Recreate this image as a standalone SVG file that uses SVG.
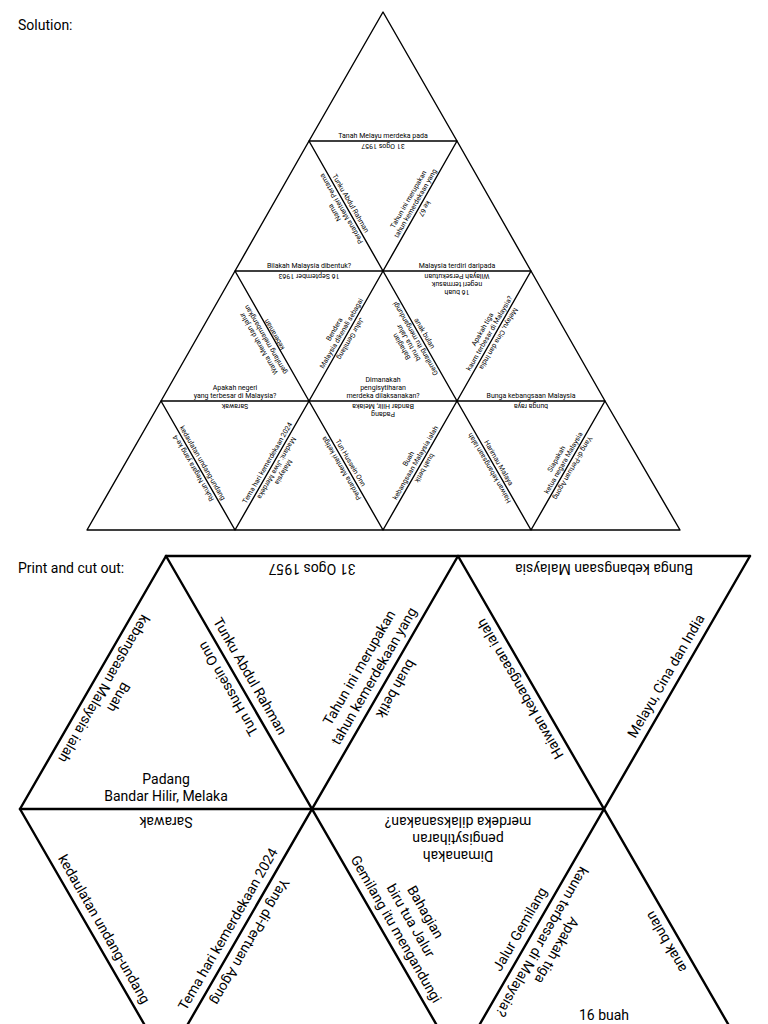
<svg xmlns="http://www.w3.org/2000/svg" width="768" height="1024" viewBox="0 0 768 1024">
<style>
text{font-family:Roboto,"Liberation Sans",sans-serif;fill:#000;text-anchor:middle}
.h{font-size:14px;text-anchor:start}
.s{font-size:7px}
.b{font-size:14px}
.g1 polygon{fill:none;stroke:#000;stroke-width:1.4;stroke-linejoin:round}
.g2 line{stroke:#000;stroke-width:2.4;stroke-linecap:round}
</style>
<rect width="768" height="1024" fill="#fff"/>
<text class="h" x="18" y="30">Solution:</text>
<text class="h" x="18" y="573">Print and cut out:</text>
<g id="solution-grid" class="g1">
<polygon points="383,12 309,141 457,141"/>
<polygon points="309,141 235,271 383,271"/>
<polygon points="457,141 383,271 531,271"/>
<polygon points="235,271 161,401 309,401"/>
<polygon points="383,271 309,401 457,401"/>
<polygon points="531,271 457,401 605,401"/>
<polygon points="161,401 87,530 235,530"/>
<polygon points="309,401 235,530 383,530"/>
<polygon points="457,401 383,530 531,530"/>
<polygon points="605,401 531,530 680,530"/>
</g>
<g id="solution-text" class="s">
<text transform="translate(383,141)"><tspan x="0" y="-3">Tanah Melayu merdeka pada</tspan></text>
<text transform="translate(383,141) rotate(180)"><tspan x="0" y="-3">31 Ogos 1957</tspan></text>
<text transform="translate(346,206) rotate(60)"><tspan x="0" y="-3">Tunku Abdul Rahman</tspan></text>
<text transform="translate(346,206) rotate(-120)"><tspan x="0" y="-11">Nama</tspan><tspan x="0" y="-3">Perdana Menteri Pertama</tspan></text>
<text transform="translate(420,206) rotate(-60)"><tspan x="0" y="-11">Tahun ini merupakan</tspan><tspan x="0" y="-3">tahun kemerdekaan yang</tspan></text>
<text transform="translate(420,206) rotate(120)"><tspan x="0" y="-3">ke 67</tspan></text>
<text transform="translate(309,271)"><tspan x="0" y="-3">Bilakah Malaysia dibentuk?</tspan></text>
<text transform="translate(309,271) rotate(180)"><tspan x="0" y="-3">16 September 1963</tspan></text>
<text transform="translate(457,271)"><tspan x="0" y="-3">Malaysia terdiri daripada</tspan></text>
<text transform="translate(457,271) rotate(180)"><tspan x="0" y="-19">16 buah</tspan><tspan x="0" y="-11">negeri termasuk</tspan><tspan x="0" y="-3">Wilayah Persekutuan</tspan></text>
<text transform="translate(272,336) rotate(-120)"><tspan x="0" y="-13">Warna Merah dan jalur</tspan><tspan x="0" y="-5">gemilang melambangkan</tspan><tspan x="0" y="5">keberanian</tspan></text>
<text transform="translate(346,336) rotate(-60)"><tspan x="0" y="-11">Bendera</tspan><tspan x="0" y="-3">Malaysia dikenali sebagai</tspan></text>
<text transform="translate(346,336) rotate(120)"><tspan x="0" y="-3">Jalur Gemilang</tspan></text>
<text transform="translate(420,336) rotate(-120)"><tspan x="0" y="-19">Bahagian</tspan><tspan x="0" y="-11">biru tua Jalur</tspan><tspan x="0" y="-3">Gemilang itu mengandungi</tspan></text>
<text transform="translate(420,336) rotate(60)"><tspan x="0" y="-3">anak bulan</tspan></text>
<text transform="translate(494,336) rotate(-60)"><tspan x="0" y="-11">Apakah tiga</tspan><tspan x="0" y="-3">kaum terbesar di Malaysia?</tspan></text>
<text transform="translate(494,336) rotate(120)"><tspan x="0" y="-3">Melayu, Cina dan India</tspan></text>
<text transform="translate(235,401)"><tspan x="0" y="-11">Apakah negeri</tspan><tspan x="0" y="-3">yang terbesar di Malaysia?</tspan></text>
<text transform="translate(235,401) rotate(180)"><tspan x="0" y="-3">Sarawak</tspan></text>
<text transform="translate(383,401)"><tspan x="0" y="-19">Dimanakah</tspan><tspan x="0" y="-11">pengisytiharan</tspan><tspan x="0" y="-3">merdeka dilaksanakan?</tspan></text>
<text transform="translate(383,401) rotate(180)"><tspan x="0" y="-11">Padang</tspan><tspan x="0" y="-3">Bandar Hilir, Melaka</tspan></text>
<text transform="translate(531,401)"><tspan x="0" y="-3">Bunga kebangsaan Malaysia</tspan></text>
<text transform="translate(531,401) rotate(180)"><tspan x="0" y="-3">bunga raya</tspan></text>
<text transform="translate(198,465.5) rotate(-120)"><tspan x="0" y="-3">Rukun Negara yang ke-4</tspan></text>
<text transform="translate(198,465.5) rotate(60)"><tspan x="0" y="-3">kedaulatan undang-undang</tspan></text>
<text transform="translate(272,465.5) rotate(-60)"><tspan x="0" y="-3">Tema hari kemerdekaan 2024</tspan></text>
<text transform="translate(272,465.5) rotate(120)"><tspan x="0" y="-11">Malaysia</tspan><tspan x="0" y="-3">Madani: Jiwa Merdeka</tspan></text>
<text transform="translate(346,465.5) rotate(-120)"><tspan x="0" y="-3">Perdana Menteri ketiga</tspan></text>
<text transform="translate(346,465.5) rotate(60)"><tspan x="0" y="-3">Tun Hussein Onn</tspan></text>
<text transform="translate(420,465.5) rotate(-60)"><tspan x="0" y="-11">Buah</tspan><tspan x="0" y="-3">kebangsaan Malaysia ialah</tspan></text>
<text transform="translate(420,465.5) rotate(120)"><tspan x="0" y="-3">buah betik</tspan></text>
<text transform="translate(494,465.5) rotate(-120)"><tspan x="0" y="-3">Haiwan kebangsaan ialah</tspan></text>
<text transform="translate(494,465.5) rotate(60)"><tspan x="0" y="-3">Harimau Malaya</tspan></text>
<text transform="translate(568,465.5) rotate(-60)"><tspan x="0" y="-11">Siapakah</tspan><tspan x="0" y="-3">ketua negara Malaysia</tspan></text>
<text transform="translate(568,465.5) rotate(120)"><tspan x="0" y="-3">Yang di-Pertuan Agong</tspan></text>
</g>
<g id="cutout-lines" class="g2">
<line x1="166" y1="556" x2="750" y2="556"/>
<line x1="20" y1="809" x2="604" y2="809"/>
<line x1="166" y1="556" x2="20" y2="809"/>
<line x1="166" y1="556" x2="458" y2="1062"/>
<line x1="458" y1="556" x2="166" y2="1062"/>
<line x1="458" y1="556" x2="750" y2="1062"/>
<line x1="750" y1="556" x2="458" y2="1062"/>
<line x1="20" y1="809" x2="166" y2="1062"/>
</g>
<g id="cutout-text" class="b">
<text transform="translate(239,682.5) rotate(-120)"><tspan x="0" y="-8">Tun Hussein Onn</tspan></text>
<text transform="translate(239,682.5) rotate(60)"><tspan x="0" y="-8">Tunku Abdul Rahman</tspan></text>
<text transform="translate(93,682.5) rotate(120)"><tspan x="0" y="-25">Buah</tspan><tspan x="0" y="-8">kebangsaan Malaysia ialah</tspan></text>
<text transform="translate(166,809)"><tspan x="0" y="-25">Padang</tspan><tspan x="0" y="-8">Bandar Hilir, Melaka</tspan></text>
<text transform="translate(166,809) rotate(180)"><tspan x="0" y="-8">Sarawak</tspan></text>
<text transform="translate(312,556) rotate(180)"><tspan x="0" y="-8">31 Ogos 1957</tspan></text>
<text transform="translate(385,682.5) rotate(-60)"><tspan x="0" y="-25">Tahun ini merupakan</tspan><tspan x="0" y="-8">tahun kemerdekaan yang</tspan></text>
<text transform="translate(385,682.5) rotate(120)"><tspan x="0" y="-8">buah betik</tspan></text>
<text transform="translate(531,682.5) rotate(-120)"><tspan x="0" y="-8">Haiwan kebangsaan ialah</tspan></text>
<text transform="translate(604,556) rotate(180)"><tspan x="0" y="-8">Bunga kebangsaan Malaysia</tspan></text>
<text transform="translate(677,682.5) rotate(-60)"><tspan x="0" y="-8">Melayu, Cina dan India</tspan></text>
<text transform="translate(458,809) rotate(180)"><tspan x="0" y="-42">Dimanakah</tspan><tspan x="0" y="-25">pengisytiharan</tspan><tspan x="0" y="-8">merdeka dilaksanakan?</tspan></text>
<text transform="translate(93,935.5) rotate(60)"><tspan x="0" y="-8">kedaulatan undang-undang</tspan></text>
<text transform="translate(239,935.5) rotate(-60)"><tspan x="0" y="-8">Tema hari kemerdekaan 2024</tspan></text>
<text transform="translate(239,935.5) rotate(120)"><tspan x="0" y="-8">Yang di-Pertuan Agong</tspan></text>
<text transform="translate(385,935.5) rotate(60)"><tspan x="0" y="-42">Bahagian</tspan><tspan x="0" y="-25">biru tua Jalur</tspan><tspan x="0" y="-8">Gemilang itu mengandungi</tspan></text>
<text transform="translate(531,935.5) rotate(-60)"><tspan x="0" y="-8">Jalur Gemilang</tspan></text>
<text transform="translate(531,935.5) rotate(120)"><tspan x="0" y="-25">Apakah tiga</tspan><tspan x="0" y="-8">kaum terbesar di Malaysia?</tspan></text>
<text transform="translate(677,935.5) rotate(-120)"><tspan x="0" y="-8">anak bulan</tspan></text>
<text transform="translate(604,1062)"><tspan x="0" y="-42">16 buah</tspan><tspan x="0" y="-25">negeri termasuk</tspan><tspan x="0" y="-8">Wilayah Persekutuan</tspan></text>
</g>
</svg>
